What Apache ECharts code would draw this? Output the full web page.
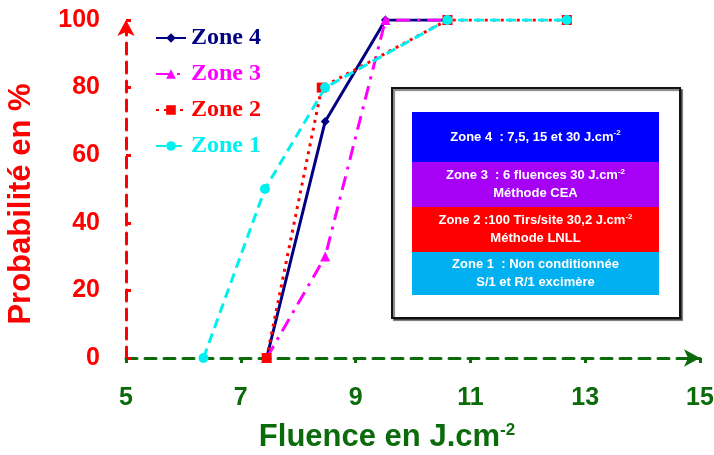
<!DOCTYPE html>
<html>
<head>
<meta charset="utf-8">
<script src="https://cdn.jsdelivr.net/npm/echarts@6/dist/echarts.min.js"></script>
<style>
html,body{margin:0;padding:0;background:#fff;}
#chart{width:714px;height:455px;}
</style>
</head>
<body>
<div id="chart"></div>
<script>
// ---- data ----
var seriesNames = ['Zone 4', 'Zone 3', 'Zone 2', 'Zone 1'];
var zone4X = [7.45, 8.47, 9.52, 10.6];
var zone4Y = [0, 70, 100, 100];
var zone3X = [7.45, 8.47, 9.52, 10.6];
var zone3Y = [0, 30, 100, 100];
var zone2X = [7.45, 8.41, 10.6, 12.68];
var zone2Y = [0, 80, 100, 100];
var zone1X = [6.35, 7.42, 8.47, 10.6, 12.68];
var zone1Y = [0, 50, 80, 100, 100];
var xTicks = [5, 7, 9, 11, 13, 15];
var yTicks = [0, 20, 40, 60, 80, 100];
var boxLines = [
  ['Zone 4  : 7,5, 15 et 30 J.cm{sup|-2}'],
  ['Zone 3  : 6 fluences 30 J.cm{sup|-2}', 'Méthode CEA'],
  ['Zone 2 :100 Tirs/site 30,2 J.cm{sup|-2}', 'Méthode LNLL'],
  ['Zone 1  : Non conditionnée', 'S/1 et R/1 excimère']
];

function pairs(xs, ys){ return xs.map(function(x,i){ return [x, ys[i]]; }); }

var RED = '#ff0000', GREEN = '#0b6b0b';
var colors = {'Zone 4':'#000080','Zone 3':'#ff00ff','Zone 2':'#ff0000','Zone 1':'#00f0f0'};

var chart = echarts.init(document.getElementById('chart'));

// info box graphics
var bandColors = ['#0000ff', '#a600f5', '#ff0000', '#00b0f0'];
var bandTops = [112, 162, 207, 252];
var bandHeights = [50, 45, 45, 43];
var graphics = [
  {type:'rect', shape:{x:392,y:88,width:288,height:230}, style:{fill:'#fff', stroke:'#111', lineWidth:2, shadowColor:'rgba(0,0,0,0.5)', shadowOffsetX:2, shadowOffsetY:2, shadowBlur:1}, z:5}
];
boxLines.forEach(function(lines, i){
  graphics.push({type:'rect', shape:{x:412,y:bandTops[i],width:247,height:bandHeights[i]}, style:{fill:bandColors[i]}, z:6});
  var n = lines.length;
  lines.forEach(function(t, j){
    var cy = bandTops[i] + bandHeights[i]/2 + (n === 1 ? 0 : (j === 0 ? -9 : 9));
    graphics.push({
      type:'text', x:535.5, y:cy, z:7,
      style:{
        text:t, fill:'#fff', align:'center', verticalAlign:'middle',
        font:'bold 13px "Liberation Sans", Arial, sans-serif',
        rich:{sup:{fontSize:8, fontWeight:'bold', fill:'#fff', color:'#fff', verticalAlign:'top', padding:[0,0,8,0], fontFamily:'"Liberation Sans", Arial'}}
      }
    });
  });
});

var option = {
  backgroundColor:'#fff',
  animation:false,
  grid:{left:126, right:14, top:20, bottom:97, containLabel:false, outerBoundsMode:'none'},
  legend:{
    orient:'vertical', left:150, top:21, itemGap:12, itemWidth:30, itemHeight:12,
    backgroundColor:'#fff',
    textStyle:{fontFamily:'"Liberation Serif", "Times New Roman", serif', fontWeight:'bold', fontSize:24},
    data: seriesNames.map(function(n){ return {name:n, textStyle:{color:colors[n]}}; })
  },
  xAxis:{
    type:'value', min:5, max:15, interval:2,
    name:'Fluence en J.cm{sup|-2}', nameLocation:'middle', nameGap:64,
    nameTextStyle:{color:GREEN, fontWeight:'bold', fontSize:31, fontFamily:'"Liberation Sans", Arial, sans-serif', padding:[0,52,0,0],
      rich:{sup:{fontSize:17, fontWeight:'bold', color:GREEN, verticalAlign:'top', padding:[0,0,14,0], fontFamily:'"Liberation Sans", Arial'}}},
    axisLine:{show:true, onZero:false, symbol:['none','arrow'], symbolSize:[13,16], symbolOffset:[0,0], lineStyle:{color:GREEN, width:3, type:[11,8]}},
    axisTick:{show:true, length:5, lineStyle:{color:GREEN, width:3}},
    axisLabel:{color:GREEN, fontWeight:'bold', fontSize:25, fontFamily:'"Liberation Sans", Arial, sans-serif', margin:28,
      customValues: xTicks},
    splitLine:{show:false}
  },
  yAxis:{
    type:'value', min:0, max:100, interval:20,
    name:'Probabilité en %', nameLocation:'middle', nameGap:89,
    nameTextStyle:{color:RED, fontWeight:'bold', fontSize:31, fontFamily:'"Liberation Sans", Arial, sans-serif', padding:[0,30,0,0]},
    axisLine:{show:true, onZero:false, symbol:['none','arrow'], symbolSize:[13,16], symbolOffset:[0,0], lineStyle:{color:RED, width:3, type:[11,8]}},
    axisTick:{show:true, inside:true, length:5, lineStyle:{color:RED, width:3}},
    axisLabel:{color:RED, fontWeight:'bold', fontSize:25, fontFamily:'"Liberation Sans", Arial, sans-serif', margin:26},
    splitLine:{show:false}
  },
  graphic: graphics,
  series:[
    {name:'Zone 4', type:'line', data:pairs(zone4X, zone4Y), symbol:'diamond', symbolSize:9,
      lineStyle:{color:colors['Zone 4'], width:3, type:'solid'}, itemStyle:{color:colors['Zone 4']}, z:2},
    {name:'Zone 3', type:'line', data:pairs(zone3X, zone3Y), symbol:'triangle', symbolSize:10,
      lineStyle:{color:colors['Zone 3'], width:3, type:[14,7,3,7]}, itemStyle:{color:colors['Zone 3']}, z:3},
    {name:'Zone 2', type:'line', data:pairs(zone2X, zone2Y), symbol:'rect', symbolSize:10,
      lineStyle:{color:colors['Zone 2'], width:3, type:[3,5]}, itemStyle:{color:colors['Zone 2']}, z:4},
    {name:'Zone 1', type:'line', data:pairs(zone1X, zone1Y), symbol:'circle', symbolSize:10,
      lineStyle:{color:colors['Zone 1'], width:3, type:[10,6]}, itemStyle:{color:colors['Zone 1']}, z:5}
  ]
};
chart.setOption(option);
</script>
</body>
</html>
